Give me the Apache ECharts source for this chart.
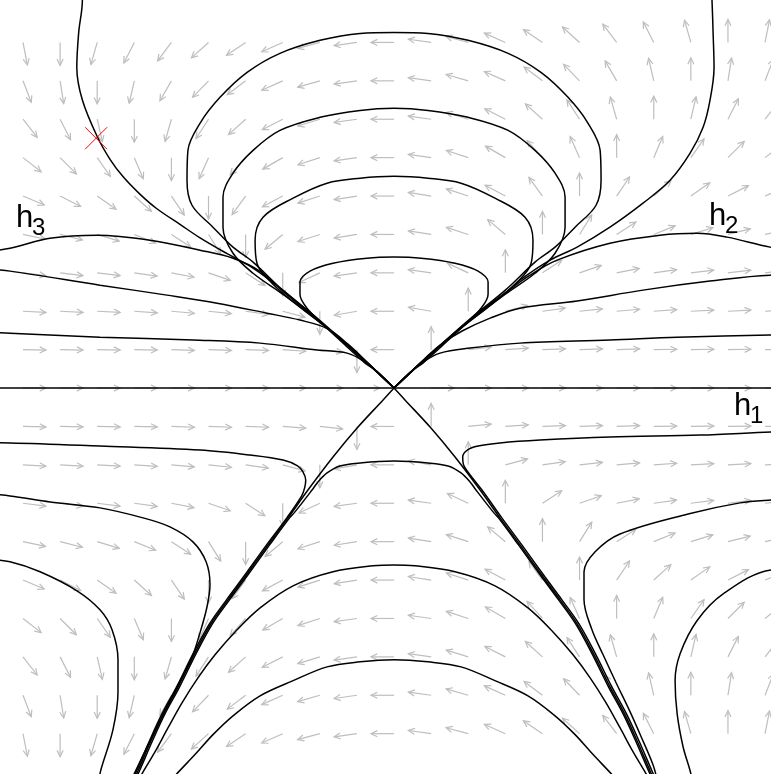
<!DOCTYPE html>
<html>
<head>
<meta charset="utf-8">
<script src="https://cdn.jsdelivr.net/npm/echarts/dist/echarts.min.js"></script>
<style>
  html, body { margin: 0; padding: 0; background: #ffffff; }
  #chart { width: 771px; height: 774px; }
</style>
</head>
<body>
<div id="chart"></div>
<script>
// Direction field grid (model units) and arrow directions in degrees.
const fieldX = [-2.0, -1.8, -1.6, -1.4, -1.2, -1.0, -0.8, -0.6, -0.4, -0.2, 0, 0.2, 0.4, 0.6, 0.8, 1.0, 1.2, 1.4, 1.6, 1.8, 2.0];
const fieldY = [1.8, 1.6, 1.4, 1.2, 1.0, 0.8, 0.6, 0.4, 0.2, 0, -0.2, -0.4, -0.6, -0.8, -1.0, -1.2, -1.4, -1.6, -1.8];
const fieldAngle = [
  [-79,-90,-106,-117,-127,-138,-146,-156,-165,-172,180,172,165,156,146,138,127,117,106,90,79],
  [-69,-81,-90,-103,-120,-134,-143,-156,-164,-172,180,172,164,156,143,134,120,103,90,81,69],
  [-52,-63,-77,-90,-106,-123,-138,-153,-163,-172,180,172,163,153,138,123,106,90,77,63,52],
  [-38,-45,-55,-67,-90,-114,-132,-150,-162,-172,180,172,162,150,132,114,90,67,55,45,38],
  [-23,-27,-35,-42,-56,-90,-126,-152,-162,-171,180,171,162,152,126,90,56,42,35,27,23],
  [-12,-14,-17,-22,-33,-58,-90,-140,-162,-171,180,171,162,140,90,58,33,22,17,14,12],
  [-7,-7,-7,-8,-11,-19,-33,-90,-155,-172,180,172,155,90,33,19,11,8,7,7,7],
  [-3,-3,-3,-4,-5,-6,-8,-15,-90,-170,180,170,90,15,8,6,5,4,3,3,3],
  [-1,-1,-1,-1,-2,-2,-2,-4,-6,-90,180,90,6,4,2,2,2,1,1,1,1],
  [0,0,0,0,0,0,0,0,0,0,null,0,0,0,0,0,0,0,0,0,0],
  [-1,-1,-1,-1,-2,-2,-2,-4,-6,-90,180,90,6,4,2,2,2,1,1,1,1],
  [-3,-3,-3,-4,-5,-6,-8,-15,-90,-170,180,170,90,15,8,6,5,4,3,3,3],
  [-7,-7,-7,-8,-11,-19,-33,-90,-155,-172,180,172,155,90,33,19,11,8,7,7,7],
  [-12,-14,-17,-22,-33,-58,-90,-140,-162,-171,180,171,162,140,90,58,33,22,17,14,12],
  [-23,-27,-35,-42,-56,-90,-126,-152,-162,-171,180,171,162,152,126,90,56,42,35,27,23],
  [-38,-45,-55,-67,-90,-114,-132,-150,-162,-172,180,172,162,150,132,114,90,67,55,45,38],
  [-52,-63,-77,-90,-106,-123,-138,-153,-163,-172,180,172,163,153,138,123,106,90,77,63,52],
  [-69,-81,-90,-103,-120,-134,-143,-156,-164,-172,180,172,164,156,143,134,120,103,90,81,69],
  [-79,-90,-106,-117,-127,-138,-146,-156,-165,-172,180,172,165,156,146,138,127,117,106,90,79]
];

// Trajectories (x, y) in model units.
const h1Line = [[-2.2, 0], [2.2, 0]];
const outerLeft = [[-1.68,2.08],[-1.68,2.02],[-1.70,1.85],[-1.71,1.67],[-1.68,1.50],[-1.60,1.31],[-1.53,1.19],[-1.46,1.10],[-1.37,1.01],[-1.28,0.935],[-1.15,0.85],[-1.05,0.785],[-0.90,0.70],[-0.76,0.625],[-0.60,0.51],[-0.415,0.36],[-0.20,0.18],[-0.10,0.092],[0,0]];
const outerRight = [[1.71,2.08],[1.714,2.02],[1.72,1.847],[1.725,1.67],[1.703,1.498],[1.666,1.358],[1.596,1.223],[1.488,1.082],[1.342,0.963],[1.164,0.838],[0.987,0.734],[0.841,0.666],[0.679,0.562],[0.598,0.494],[0.415,0.36],[0.20,0.18],[0.10,0.092],[0,0]];
const h3Curve = [[-2.2,0.71],[-2.07,0.728],[-1.855,0.78],[-1.60,0.796],[-1.315,0.77],[-1.046,0.718],[-0.868,0.676],[-0.722,0.608],[-0.60,0.505],[-0.415,0.358],[-0.20,0.18],[-0.10,0.092],[0,0]];
const h2Curve = [[2.2,0.71],[2.027,0.734],[1.795,0.786],[1.633,0.806],[1.434,0.796],[1.164,0.754],[0.879,0.666],[0.733,0.588],[0.598,0.494],[0.415,0.358],[0.20,0.18],[0.10,0.092],[0,0]];
const sideLeft1 = [[-2.2,0.62],[-2.07,0.609],[-1.585,0.536],[-1.224,0.484],[-0.954,0.442],[-0.685,0.39],[-0.507,0.354],[-0.361,0.31],[-0.25,0.23],[-0.129,0.12],[0,0]];
const sideRight1 = [[2.2,0.59],[2.027,0.588],[1.703,0.557],[1.342,0.51],[0.987,0.453],[0.679,0.416],[0.518,0.364],[0.367,0.297],[0.25,0.225],[0.129,0.12],[0,0]];
const sideLeft2 = [[-2.2,0.29],[-2.07,0.286],[-1.585,0.265],[-1.084,0.25],[-0.722,0.234],[-0.415,0.198],[-0.253,0.182],[-0.156,0.135],[-0.075,0.068],[0,0]];
const sideRight2 = [[2.2,0.278],[2.027,0.276],[1.526,0.265],[1.164,0.25],[0.679,0.234],[0.41,0.208],[0.248,0.182],[0.156,0.135],[0.075,0.068],[0,0]];

const loop1 = [[0,0],[-0.10,0.092],[-0.20,0.18],[-0.415,0.364],[-0.60,0.51],[-0.76,0.656],[-0.868,0.734],[-0.976,0.838],[-1.089,0.952],[-1.116,1.082],[-1.111,1.238],[-1.046,1.379],[-0.938,1.514],[-0.792,1.644],[-0.615,1.743],[-0.399,1.811],[-0.183,1.847],[0,1.852],[0.183,1.847],[0.399,1.811],[0.615,1.743],[0.792,1.644],[0.938,1.514],[1.046,1.379],[1.111,1.238],[1.116,1.082],[1.089,0.952],[0.976,0.838],[0.868,0.734],[0.76,0.656],[0.60,0.51],[0.415,0.364],[0.20,0.18],[0.10,0.092],[0,0]];
const loop2 = [[0,0],[-0.10,0.092],[-0.20,0.18],[-0.415,0.354],[-0.60,0.489],[-0.76,0.598],[-0.868,0.702],[-0.922,0.838],[-0.922,0.994],[-0.868,1.119],[-0.76,1.238],[-0.615,1.342],[-0.399,1.41],[-0.183,1.446],[0,1.457],[0.183,1.446],[0.399,1.41],[0.615,1.342],[0.76,1.238],[0.868,1.119],[0.922,0.994],[0.922,0.838],[0.868,0.702],[0.76,0.598],[0.60,0.489],[0.415,0.354],[0.20,0.18],[0.10,0.092],[0,0]];
const loop3 = [[0,0],[-0.10,0.092],[-0.20,0.177],[-0.345,0.302],[-0.507,0.421],[-0.658,0.546],[-0.739,0.65],[-0.749,0.77],[-0.706,0.89],[-0.544,0.989],[-0.361,1.067],[-0.183,1.093],[0,1.103],[0.183,1.093],[0.361,1.067],[0.544,0.989],[0.706,0.89],[0.749,0.77],[0.739,0.65],[0.658,0.546],[0.507,0.421],[0.345,0.302],[0.20,0.177],[0.10,0.092],[0,0]];
const loop4 = [[0,0],[-0.10,0.092],[-0.156,0.13],[-0.264,0.224],[-0.383,0.333],[-0.469,0.416],[-0.507,0.489],[-0.507,0.552],[-0.453,0.609],[-0.329,0.65],[-0.146,0.676],[0,0.682],[0.146,0.676],[0.329,0.65],[0.453,0.609],[0.507,0.552],[0.507,0.489],[0.469,0.416],[0.383,0.333],[0.264,0.224],[0.156,0.13],[0.10,0.092],[0,0]];

const sepLeft = [[0,0],[-0.059,-0.062],[-0.199,-0.208],[-0.329,-0.359],[-0.464,-0.531],[-0.571,-0.676],[-0.679,-0.817],[-0.803,-0.983],[-0.895,-1.103],[-0.987,-1.228],[-1.073,-1.379],[-1.164,-1.556],[-1.245,-1.701],[-1.310,-1.837],[-1.380,-1.993],[-1.402,-2.04]];
const sepRight = [[0,0],[0.059,-0.062],[0.199,-0.208],[0.329,-0.359],[0.464,-0.531],[0.571,-0.676],[0.679,-0.817],[0.803,-0.983],[0.895,-1.103],[0.987,-1.228],[1.073,-1.379],[1.164,-1.556],[1.245,-1.701],[1.310,-1.837],[1.380,-1.993],[1.402,-2.04]];
const lowLeft1 = [[-2.2,-0.285],[-2.07,-0.286],[-1.585,-0.302],[-1.046,-0.323],[-0.776,-0.349],[-0.598,-0.375],[-0.52,-0.405],[-0.491,-0.437],[-0.476,-0.48],[-0.482,-0.52],[-0.497,-0.56],[-0.578,-0.676],[-0.687,-0.817],[-0.811,-0.983],[-0.903,-1.103],[-0.995,-1.228],[-1.081,-1.379],[-1.172,-1.556],[-1.253,-1.701],[-1.318,-1.837],[-1.388,-1.993],[-1.41,-2.04]];
const lowRight1 = [[2.2,-0.225],[2.032,-0.229],[1.650,-0.245],[1.164,-0.255],[0.787,-0.271],[0.571,-0.286],[0.453,-0.302],[0.395,-0.323],[0.37,-0.359],[0.375,-0.401],[0.40,-0.44],[0.474,-0.531],[0.581,-0.676],[0.689,-0.817],[0.813,-0.983],[0.905,-1.103],[0.997,-1.228],[1.083,-1.379],[1.174,-1.556],[1.255,-1.701],[1.320,-1.837],[1.390,-1.993],[1.412,-2.04]];
const lowLeft2 = [[-2.2,-0.55],[-2.07,-0.562],[-1.854,-0.593],[-1.585,-0.624],[-1.353,-0.676],[-1.208,-0.723],[-1.084,-0.801],[-1.013,-0.905],[-0.992,-1.025],[-1.008,-1.139],[-1.046,-1.275],[-1.094,-1.415],[-1.176,-1.571],[-1.253,-1.717],[-1.322,-1.852],[-1.395,-1.998],[-1.416,-2.04]];
const lowRight2 = [[2.2,-0.575],[2.032,-0.583],[1.865,-0.598],[1.585,-0.656],[1.218,-0.760],[1.084,-0.853],[1.024,-0.957],[1.024,-1.103],[1.067,-1.259],[1.127,-1.389],[1.197,-1.535],[1.267,-1.675],[1.332,-1.816],[1.396,-1.962],[1.418,-2.04]];
const lowLeft3 = [[-2.2,-0.89],[-2.07,-0.905],[-1.908,-0.957],[-1.709,-1.056],[-1.585,-1.155],[-1.52,-1.259],[-1.488,-1.415],[-1.488,-1.582],[-1.515,-1.779],[-1.58,-1.988],[-1.59,-2.04]];
const lowRight3 = [[2.2,-0.94],[2.032,-0.947],[1.774,-1.072],[1.633,-1.212],[1.542,-1.384],[1.515,-1.524],[1.526,-1.696],[1.558,-1.868],[1.596,-1.993],[1.606,-2.04]];
const arc1 = [[-1.395,-2.04],[-1.372,-1.993],[-1.302,-1.837],[-1.237,-1.701],[-1.156,-1.556],[-1.065,-1.379],[-0.979,-1.228],[-0.887,-1.103],[-0.795,-0.983],[-0.671,-0.817],[-0.563,-0.676],[-0.534,-0.645],[-0.442,-0.531],[-0.41,-0.489],[-0.361,-0.442],[-0.291,-0.406],[-0.183,-0.390],[0,-0.38],[0.183,-0.390],[0.291,-0.406],[0.361,-0.442],[0.41,-0.489],[0.442,-0.531],[0.534,-0.645],[0.563,-0.676],[0.671,-0.817],[0.795,-0.983],[0.887,-1.103],[0.979,-1.228],[1.065,-1.379],[1.156,-1.556],[1.237,-1.701],[1.302,-1.837],[1.372,-1.993],[1.395,-2.04]];
const arc2 = [[-1.375,-2.04],[-1.358,-2.008],[-1.288,-1.894],[-1.218,-1.769],[-1.143,-1.639],[-1.057,-1.509],[-0.965,-1.389],[-0.857,-1.270],[-0.722,-1.145],[-0.544,-1.030],[-0.329,-0.957],[-0.113,-0.926],[0,-0.921],[0.113,-0.926],[0.329,-0.957],[0.544,-1.030],[0.722,-1.145],[0.857,-1.270],[0.965,-1.389],[1.057,-1.509],[1.143,-1.639],[1.218,-1.769],[1.288,-1.894],[1.358,-2.008],[1.375,-2.04]];
const arc3 = [[-1.197,-2.04],[-1.17,-2.008],[-1.073,-1.909],[-0.976,-1.805],[-0.868,-1.707],[-0.722,-1.603],[-0.544,-1.524],[-0.361,-1.452],[-0.183,-1.426],[0,-1.415],[0.183,-1.426],[0.361,-1.452],[0.544,-1.524],[0.722,-1.603],[0.868,-1.707],[0.976,-1.805],[1.073,-1.909],[1.17,-2.008],[1.197,-2.04]];

// Starting point marker and curve labels: [letter, index, x, y].
const startPoint = [-1.606, 1.301];
const curveLabels = [['h', '1', 1.833, -0.016], ['h', '2', 1.698, 0.973], ['h', '3', -2.038, 0.963]];

const trajectories = [h1Line, outerLeft, outerRight, h3Curve, h2Curve, sideLeft1, sideRight1, sideLeft2, sideRight2,
  loop1, loop2, loop3, loop4, sepLeft, sepRight, lowLeft1, lowRight1, lowLeft2, lowRight2, lowLeft3, lowRight3, arc1, arc2, arc3];

const arrowData = [];
fieldY.forEach((y, r) => {
  fieldX.forEach((x, c) => {
    const a = fieldAngle[r][c];
    if (a !== null) arrowData.push([x, y, a]);
  });
});

const ARROW_LEN = 23, HEAD_LEN = 7, HEAD_ANG = 0.45;
const GREY = '#bebebe';

function renderArrow(params, api) {
  const p = api.coord([api.value(0), api.value(1)]);
  const a = api.value(2) * Math.PI / 180;
  const tx = p[0] + ARROW_LEN * Math.cos(a);
  const ty = p[1] - ARROW_LEN * Math.sin(a);
  const b = a + Math.PI;
  const h1 = [tx + HEAD_LEN * Math.cos(b + HEAD_ANG), ty - HEAD_LEN * Math.sin(b + HEAD_ANG)];
  const h2 = [tx + HEAD_LEN * Math.cos(b - HEAD_ANG), ty - HEAD_LEN * Math.sin(b - HEAD_ANG)];
  return {
    type: 'group',
    children: [
      { type: 'line', shape: { x1: p[0], y1: p[1], x2: tx, y2: ty }, style: { stroke: GREY, lineWidth: 1.2 } },
      { type: 'polyline', shape: { points: [h1, [tx, ty], h2] }, style: { stroke: GREY, fill: null, lineWidth: 1.2 } }
    ]
  };
}

function renderCross(params, api) {
  const p = api.coord([api.value(0), api.value(1)]);
  const s = 11;
  return {
    type: 'group',
    children: [
      { type: 'line', shape: { x1: p[0] - s, y1: p[1] - s, x2: p[0] + s, y2: p[1] + s }, style: { stroke: '#ff0000', lineWidth: 1 } },
      { type: 'line', shape: { x1: p[0] - s, y1: p[1] + s, x2: p[0] + s, y2: p[1] - s }, style: { stroke: '#ff0000', lineWidth: 1 } }
    ]
  };
}

function renderLabel(params, api) {
  const item = curveLabels[params.dataIndex];
  const p = api.coord([item[2], item[3]]);
  return {
    type: 'group',
    children: [
      { type: 'text', x: p[0], y: p[1], style: { text: item[0], font: '31px "Liberation Sans", Arial, sans-serif', fill: '#000', textAlign: 'left', textVerticalAlign: 'top' } },
      { type: 'text', x: p[0] + 16, y: p[1] + 13, style: { text: item[1], font: '24px "Liberation Sans", Arial, sans-serif', fill: '#000', textAlign: 'left', textVerticalAlign: 'top' } }
    ]
  };
}

const series = [
  { type: 'custom', renderItem: renderArrow, data: arrowData, z: 1, silent: true, clip: true }
];
trajectories.forEach(t => {
  series.push({
    type: 'line', data: t, symbol: 'none', smooth: 0.35, clip: true, z: 2, silent: true,
    lineStyle: { color: '#000000', width: 1.5 }
  });
});
series.push({ type: 'custom', renderItem: renderCross, data: [startPoint], z: 3, silent: true });
series.push({ type: 'custom', renderItem: renderLabel, data: curveLabels.map(l => [l[2], l[3]]), z: 4, silent: true });

const chart = echarts.init(document.getElementById('chart'), null, { renderer: 'canvas' });
chart.setOption({
  animation: false,
  backgroundColor: '#ffffff',
  grid: { left: 0, right: 0, top: 0, bottom: 0 },
  xAxis: { type: 'value', min: -2.124, max: 2.032, show: false },
  yAxis: { type: 'value', min: -2.010, max: 2.021, show: false },
  series: series
});
</script>
</body>
</html>
